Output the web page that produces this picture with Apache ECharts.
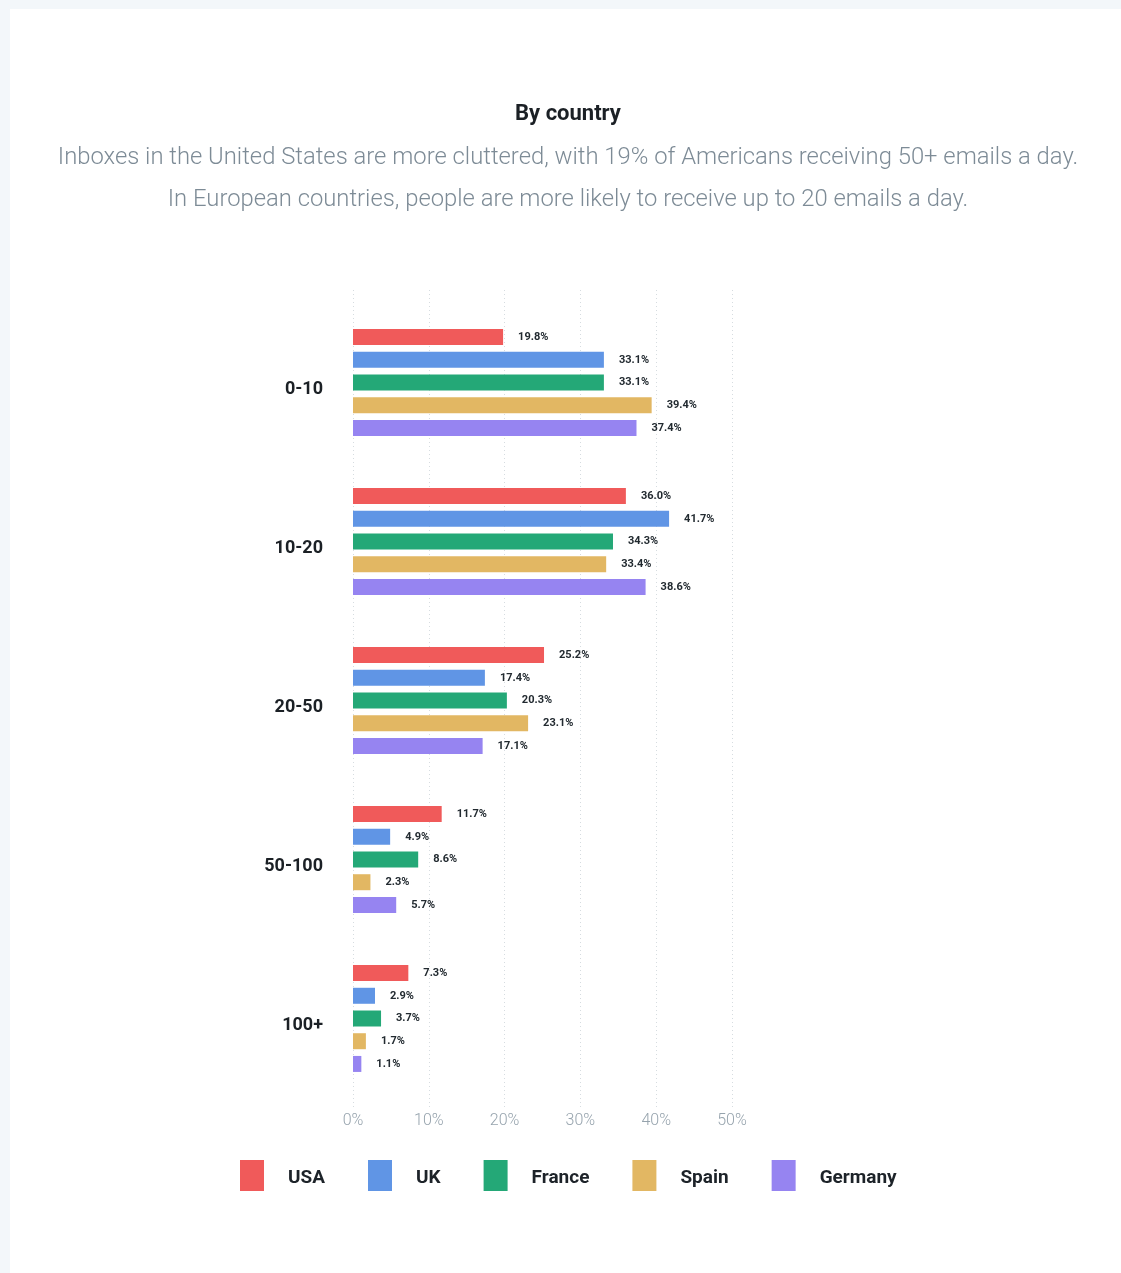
<!DOCTYPE html>
<html>
<head>
<meta charset="utf-8">
<script src="https://cdn.jsdelivr.net/npm/echarts@6/dist/echarts.min.js"></script>
<style>
  html, body { margin: 0; padding: 0; background: #f3f7fa; }
  #chart { position: absolute; left: 10px; top: 9px; width: 1111px; height: 1264px; background: #ffffff; }
</style>
</head>
<body>
<div id="chart"></div>
<script>
// Emails per day buckets
const categories = ['0-10', '10-20', '20-50', '50-100', '100+'];

const usa     = [19.8, 36.0, 25.2, 11.7, 7.3];
const uk      = [33.1, 41.7, 17.4, 4.9, 2.9];
const france  = [33.1, 34.3, 20.3, 8.6, 3.7];
const spain   = [39.4, 33.4, 23.1, 2.3, 1.7];
const germany = [37.4, 38.6, 17.1, 5.7, 1.1];

const seriesNames = ['USA', 'UK', 'France', 'Spain', 'Germany'];
const colors = ['#f05a5a', '#6095e5', '#24a877', '#e2b763', '#9684f1'];

const chart = echarts.init(document.getElementById('chart'));

const makeSeries = (name, data, idx) => ({
    name: name,
    type: 'bar',
    xAxisIndex: 0,
    yAxisIndex: 0,
    data: data,
    barWidth: 16,
    barGap: '42%',
    itemStyle: { color: colors[idx] },
    label: {
        show: true,
        position: 'right',
        distance: 15,
        formatter: (p) => p.value.toFixed(1) + '%',
        color: '#222a30',
        fontSize: 11,
        fontWeight: 'bold',
        fontFamily: 'Roboto'
    }
});

const option = {
    animation: false,
    textStyle: { fontFamily: 'Roboto' },
    title: [
        {
            text: 'By country',
            left: 553, top: 89, textAlign: 'center',
            textStyle: { fontSize: 22, fontWeight: 'bold', color: '#1b2025' }
        },
        {
            text: 'Inboxes in the United States are more cluttered, with 19% of Americans receiving 50+ emails a day.\nIn European countries, people are more likely to receive up to 20 emails a day.',
            left: 553, top: 123, textAlign: 'center',
            textStyle: { fontSize: 23.8, fontWeight: 300, color: '#7d8b96', lineHeight: 42, align: 'center' }
        }
    ],
    legend: {
        left: 225, top: 1146,
        itemWidth: 24, itemHeight: 31,
        itemGap: 43,
        icon: 'rect',
        data: seriesNames,
        formatter: (name) => '{t|' + name + '}',
        textStyle: {
            padding: [0, 0, 0, 19],
            rich: { t: { fontSize: 19, fontWeight: 'bold', color: '#1d2329', padding: [6, 0, 0, 0] } }
        }
    },
    grid: [
        { left: 343, width: 379, top: 294, height: 795 },
        { left: 343, width: 379, top: 281, height: 817 }
    ],
    xAxis: [
        {
            gridIndex: 0, type: 'value', min: 0, max: 50, interval: 10,
            show: false
        },
        {
            gridIndex: 1, type: 'value', min: 0, max: 50, interval: 10,
            axisLine: { show: false }, axisTick: { show: false },
            splitLine: { show: true, lineStyle: { type: [1, 3], color: '#d6dce0', width: 1 } },
            axisLabel: { formatter: '{value}%', color: '#96a3ad', fontSize: 16, fontWeight: 300, margin: 6 }
        }
    ],
    yAxis: [
        {
            gridIndex: 0, type: 'category', data: categories, inverse: true,
            axisLine: { show: false }, axisTick: { show: false },
            axisLabel: { color: '#1b2025', fontSize: 18, fontWeight: 'bold', margin: 30, verticalAlign: 'top', lineHeight: 13 }
        },
        {
            gridIndex: 1, type: 'category', data: categories, show: false
        }
    ],
    series: [
        makeSeries('USA', usa, 0),
        makeSeries('UK', uk, 1),
        makeSeries('France', france, 2),
        makeSeries('Spain', spain, 3),
        makeSeries('Germany', germany, 4)
    ]
};

chart.setOption(option);
</script>
</body>
</html>
